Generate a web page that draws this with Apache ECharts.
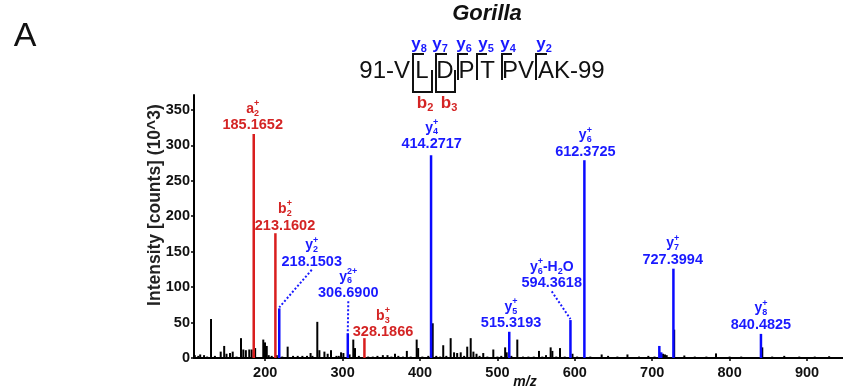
<!DOCTYPE html>
<html><head><meta charset="utf-8">
<script src="https://cdn.jsdelivr.net/npm/echarts@6/dist/echarts.min.js"></script>
<style>html,body{margin:0;padding:0;background:#fff}#c{width:843px;height:390px}</style>
</head><body><div id="c"></div>
<script>
// ---- data ----
const xTicks = [200, 300, 400, 500, 600, 700, 800, 900];
const yTicks = [0, 50, 100, 150, 200, 250, 300, 350];
const blackPeaks = [
 [109,4],[113.5,3],[116,5],[121,4],[125,2],[130,55],[135,3],[142.5,9],[147,17],[150,6],[154.5,7],[158,9],[163,2],
 [168.7,28],[171.7,12],[175,11],[179.4,12],[182.5,12],[187,14],[197.5,26],[199.7,22],[202,17],[204.5,4],[208.4,3],
 [215,4],[222,2],[229,16],[236,3],[242,3],[248,3],[254,3],[258.6,7],[261,3],[267.3,51],[270,11],[276.5,9],[280.7,6],
 [285,11],[292,3],[295,3],[298,8],[301,7],[309,5],[313.8,26],[316,14],[321,3],[333,2],[339,2],[345,3],[352,4],[358,4],
 [363,2],[367.7,6],[372,3],[378,2],[383,10],[388,2],[395.7,26],[397.6,14],[403,2],[410.7,3],[416.4,49],[421,3],[426,2],
 [430,18],[434,3],[439.6,28],[444,8],[448,7],[452.6,8],[457,3],[461,16],[465.5,28],[469,9],[473,6],[477,3],[481.7,7],
 [487,2],[494.7,12],[500,2],[505,3],[510,15],[512,8],[518,3],[525.7,26],[533,2],[540,2],[547,2],[553.7,10],[558,2],
 [562.8,4],[568.8,15],[571,10],[576,2],[580.9,14],[587,2],[597,6],[603,2],[620,2],[634.7,5],[643,3],[655,2],[668,5],
 [683,2],[695,3],[703,2],[714,6],[716.5,5],[718.7,4],[728.4,40],[741.5,3.5],[755,2],[770,2],[782.4,6.5],[800,2],
 [815,2],[842.2,15],[855,2],[870.6,3],[890,2],[910,2],[928.6,2.5]
];
const redMz  = [185.1652, 213.1602, 328.1866];
const redInt = [316, 176, 28];
const blueMz  = [218.1503, 306.6900, 414.2717, 515.3193, 594.3618, 612.3725, 709.2, 711.6, 727.3994, 840.4825];
const blueInt = [70, 35, 286, 37, 53.5, 279, 17, 8, 126, 34];
// annotated ions
const annMz  = [185.1652, 213.1602, 218.1503, 306.6900, 328.1866, 414.2717, 515.3193, 594.3618, 612.3725, 727.3994, 840.4825];
const annInt = [316, 176, 70, 35, 28, 286, 37, 53.5, 279, 126, 34];
const annIon = [
 [['a','2','+']], [['b','2','+']], [['y','2','+']], [['y','6','2+']], [['b','3','+']], [['y','4','+']],
 [['y','5','+']], [['y','6','+'],['-H','2',''],['O','','']], [['y','6','+']], [['y','7','+']], [['y','8','+']]
];
const annColor = ['r','r','b','b','r','b','b','b','b','b','b'];
const seqText = ['91-V','L','D','P','T','PV','AK-99'];
const seqY = [['y','8',''],['y','7',''],['y','6',''],['y','5',''],['y','4',''],['y','2','']];
const seqB = [['b','2',''],['b','3','']];

// ---- layout / style ----
const RED = '#d42424', BLUE = '#1a1aff', RED_LINE = '#d91e1e', BLUE_LINE = '#0a0aff';
const FF = '"Liberation Sans", Arial, sans-serif';
const F = (size, w) => (w || 'bold') + ' ' + size + 'px ' + FF;
const annOffset = [[-1,-8.5],[9.6,-7.7],[32.5,-46.6],[0.5,-40],[18.6,-5.8],[0.6,-11],[1.8,-8.4],[-18.7,-36.7],[1,-8.3],[-0.7,-9],[0,-9]];
const annLeader = [0,0,1,1,0,0,0,1,0,0,0];

const mctx = document.createElement('canvas').getContext('2d');
function mw(t, font){ mctx.font = font; return mctx.measureText(t).width; }
function txt(x, y, t, font, color, align){
  return {type:'text', x:x, y:y, silent:true, style:{text:t, font:font, fill:color, align:align||'left', verticalAlign:'middle'}};
}
function ionEls(cx, cy, segs, color, ms, ss){
  const fm = F(ms), fs = F(ss);
  let total = 0; const parts = [];
  segs.forEach(s => {
    const wm = mw(s[0], fm), wsub = s[1] ? mw(s[1], fs) : 0, wsup = s[2] ? mw(s[2], fs) : 0;
    parts.push([wm, wsub, wsup]); total += wm + Math.max(wsub, wsup);
  });
  let x = cx - total / 2; const els = [];
  segs.forEach((s, i) => {
    const p = parts[i];
    els.push(txt(x, cy, s[0], fm, color, 'left'));
    x += p[0];
    if (s[1]) els.push(txt(x, cy + ms * 0.3, s[1], fs, color, 'left'));
    if (s[2]) els.push(txt(x, cy - ms * 0.36, s[2], fs, color, 'left'));
    x += Math.max(p[1], p[2]);
  });
  return els;
}
function stickRenderer(color, width){
  return function(params, api){
    const x = api.value(0), v = api.value(1);
    const p0 = api.coord([x, 0]), p1 = api.coord([x, v]);
    return {type:'line', shape:{x1:p0[0], y1:p0[1], x2:p1[0], y2:p1[1]}, style:{stroke:color, lineWidth:width}};
  };
}
function labelRenderer(params, api){
  const i = params.dataIndex;
  const top = api.coord([api.value(0), api.value(1)]);
  const off = annOffset[i];
  const nx = top[0] + off[0], ny = top[1] + off[1];
  const color = annColor[i] === 'r' ? RED : BLUE;
  const ch = [];
  if (annLeader[i]) ch.push({type:'line', shape:{x1:nx, y1:ny + 8, x2:top[0], y2:top[1] - 1}, style:{stroke:color, lineWidth:2, lineDash:[2,2]}});
  ch.push(txt(nx, ny, annMz[i].toFixed(4), F(14.5), color, 'center'));
  ionEls(nx, ny - 16.5, annIon[i], color, 14, 9).forEach(e => ch.push(e));
  return {type:'group', children:ch};
}

// sequence graphic
const g = [];
g.push(txt(25, 37, 'A', F(34, 'normal'), '#111', 'center'));
g.push(txt(487, 14, 'Gorilla', 'italic ' + F(22), '#111', 'center'));
const seqPos = [[410,'right'],[422,'center'],[445,'center'],[466.5,'center'],[487.5,'center'],[518,'center'],[538,'left']];
seqText.forEach((t, i) => g.push(txt(seqPos[i][0], 71, t, F(24, 'normal'), '#111', seqPos[i][1])));
const brk = [
  [[424,54],[413,54],[413,92],[432,92],[432,70]],
  [[447,54],[436,54],[436,92],[455,92],[455,70]],
  [[468,54],[458,54],[458,80]],
  [[487,54],[477,54],[477,80]],
  [[512,54],[502,54],[502,80]],
  [[547,54],[536,54],[536,80]]
];
brk.forEach(p => g.push({type:'polyline', silent:true, shape:{points:p}, style:{stroke:'#111', lineWidth:2, fill:null}}));
const seqYx = [419, 440, 464, 486, 508, 544];
seqY.forEach((s, i) => ionEls(seqYx[i], 44, [s], BLUE, 17, 11).forEach(e => g.push(e)));
const seqBx = [425, 449];
seqB.forEach((s, i) => ionEls(seqBx[i], 103, [s], RED, 17, 11).forEach(e => g.push(e)));
g.push({type:'text', x:155, y:205, rotation:Math.PI/2, silent:true,
  style:{text:'Intensity [counts] (10^3)', font:F(17.5), fill:'#222', align:'center', verticalAlign:'middle'}});

const chart = echarts.init(document.getElementById('c'), null, {renderer:'canvas'});
chart.setOption({
  animation:false,
  grid:{left:194, right:0, top:95, bottom:32, containLabel:false, outerBoundsMode:'none'},
  xAxis:{type:'value', min:108, max:946.5, name:'m/z', nameLocation:'middle', nameGap:17, nameMoveOverlap:false,
    nameTextStyle:{fontStyle:'italic', fontWeight:'bold', fontSize:14, color:'#111', fontFamily:FF, padding:[0,0,0,13]},
    axisLine:{show:true, onZero:false, lineStyle:{color:'#000', width:2}},
    axisTick:{show:true, length:3, customValues:xTicks, lineStyle:{color:'#000', width:1.5}},
    axisLabel:{customValues:xTicks, margin:7, color:'#111', fontWeight:'bold', fontSize:14.5, fontFamily:FF},
    splitLine:{show:false}},
  yAxis:{type:'value', min:0, max:371,
    axisLine:{show:true, lineStyle:{color:'#000', width:2}},
    axisTick:{show:true, length:3, customValues:yTicks, lineStyle:{color:'#000', width:1.5}},
    axisLabel:{customValues:yTicks, margin:4, color:'#111', fontWeight:'bold', fontSize:14.5, fontFamily:FF},
    splitLine:{show:false}},
  graphic:{elements:g},
  series:[
    {type:'custom', silent:true, renderItem:stickRenderer('#000', 2), data:blackPeaks, z:2},
    {type:'custom', silent:true, renderItem:stickRenderer(BLUE_LINE, 2.5), data:blueMz.map((m,i)=>[m, blueInt[i]]), z:3},
    {type:'custom', silent:true, renderItem:stickRenderer(RED_LINE, 2.5), data:redMz.map((m,i)=>[m, redInt[i]]), z:3},
    {type:'custom', silent:true, clip:false, renderItem:labelRenderer, data:annMz.map((m,i)=>[m, annInt[i]]), z:4}
  ]
});
</script></body></html>
